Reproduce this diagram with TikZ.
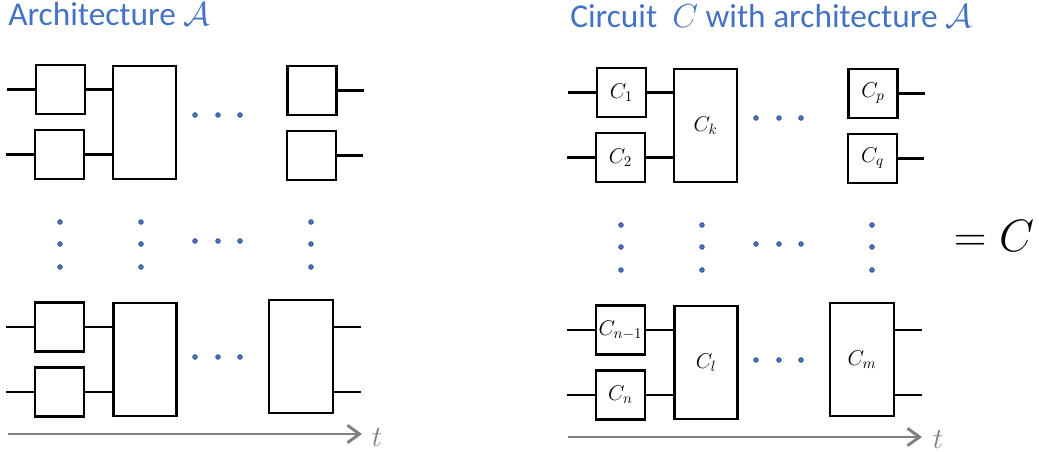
\RequirePackage{fix-cm}
\documentclass[tikz,border=0pt]{standalone}
\usepackage{fontspec}
\setmainfont{Carlito}
\usetikzlibrary{arrows.meta}
\definecolor{titleblue}{HTML}{4472C4}
\definecolor{axisgray}{HTML}{7F7F7F}
\tikzset{
  gate/.style={draw, line width=1.8pt, inner sep=0pt, minimum width=36.75pt, minimum height=36.75pt, font=\fontsize{16}{18}\selectfont},
  biggate/.style={gate, minimum width=47.25pt, minimum height=84.75pt},
  wire/.style={line width=1.6pt},
  dotfill/.style={fill=titleblue, draw=titleblue!55!black, line width=0.4pt},
  timeaxis/.style={draw=axisgray, line width=2.2pt, -{Straight Barb[length=9pt,width=13pt]}},
  paneltitle/.style={anchor=base west, text=titleblue, font=\fontsize{25}{30}\selectfont, inner sep=0pt}
}
\begin{document}
\begin{tikzpicture}[x=0.75pt,y=-0.75pt]
\useasboundingbox (0,0) rectangle (1039,452);
% architecture A
\node[paneltitle] (titleA) at (8,26) {Architecture $\mathcal{A}$};
\node[gate] (a1) at (60.5,89.5) {};
\node[gate] (a2) at (59.5,154.5) {};
\node[biggate] (ak) at (144.5,122.5) {};
\node[gate] (ap) at (312,90.5) {};
\node[gate] (aq) at (311.5,155.5) {};
\node[gate] (an1) at (59.5,327) {};
\node[gate] (an) at (59.5,392) {};
\node[biggate] (al) at (145,359.5) {};
\node[biggate, minimum width=48pt] (am) at (301,356.5) {};
\draw[wire] (a1.west) -- +(-28,0);
\draw[wire] (a2.west) -- +(-28,0);
\draw[wire] (a1.east) -- (a1.east -| ak.west);
\draw[wire] (a2.east) -- (a2.east -| ak.west);
\draw[wire] (ap.east) -- +(26,0);
\draw[wire] (aq.east) -- +(26,0);
\draw[wire] (an1.west) -- +(-28,0);
\draw[wire] (an.west) -- +(-28,0);
\draw[wire] (an1.east) -- (an1.east -| al.west);
\draw[wire] (an.east) -- (an.east -| al.west);
\draw[wire] (am.east |- an1) -- +(27,0);
\draw[wire] (am.east |- an) -- +(27,0);
\foreach \x in {195,218,240} \foreach \y in {115,241,357}
  \filldraw[dotfill] (\x,\y) circle[radius=1.8pt];
\foreach \x in {60,141,311} \foreach \y in {222,244,267}
  \filldraw[dotfill] (\x,\y) circle[radius=1.8pt];
\coordinate (ta0) at (8,434);
\coordinate (ta1) at (362,434);
\draw[timeaxis] (ta0) -- (ta1);
\node[anchor=base, text=axisgray, font=\fontsize{22}{26}\selectfont] (ta) at (377,446) {$t$};
% circuit C
\begin{scope}[shift={(561,3)}]
\node[paneltitle] (titleC) at (9,25) {Circuit\ \ $C$ with architecture $\mathcal{A}$};
\node[gate] (c1) at (60.5,89.5) {$C_{1}$};
\node[gate] (c2) at (59.5,154.5) {$C_{2}$};
\node[biggate] (ck) at (144.5,122.5) {$C_{k}$};
\node[gate] (cp) at (312,90.5) {$C_{p}$};
\node[gate] (cq) at (311.5,155.5) {$C_{q}$};
\node[gate] (cn1) at (59.5,327) {$C_{n-1}$};
\node[gate] (cn) at (59.5,392) {$C_{n}$};
\node[biggate] (cl) at (145,359.5) {$C_{l}$};
\node[biggate, minimum width=48pt] (cm) at (301,356.5) {$C_{m}$};
\draw[wire] (c1.west) -- +(-28,0);
\draw[wire] (c2.west) -- +(-28,0);
\draw[wire] (c1.east) -- (c1.east -| ck.west);
\draw[wire] (c2.east) -- (c2.east -| ck.west);
\draw[wire] (cp.east) -- +(26,0);
\draw[wire] (cq.east) -- +(26,0);
\draw[wire] (cn1.west) -- +(-28,0);
\draw[wire] (cn.west) -- +(-28,0);
\draw[wire] (cn1.east) -- (cn1.east -| cl.west);
\draw[wire] (cn.east) -- (cn.east -| cl.west);
\draw[wire] (cm.east |- cn1) -- +(27,0);
\draw[wire] (cm.east |- cn) -- +(27,0);
\foreach \x in {195,218,240} \foreach \y in {115,241,357}
  \filldraw[dotfill] (\x,\y) circle[radius=1.8pt];
\foreach \x in {60,141,311} \foreach \y in {222,244,267}
  \filldraw[dotfill] (\x,\y) circle[radius=1.8pt];
\coordinate (tc0) at (7,434);
\coordinate (tc1) at (361,434);
\draw[timeaxis] (tc0) -- (tc1);
\node[anchor=base, text=axisgray, font=\fontsize{22}{26}\selectfont] (tc) at (377,445) {$t$};
\end{scope}
\node[anchor=base, font=\fontsize{34}{40}\selectfont] (eqC) at (994,252) {$=C$};
\end{tikzpicture}
\end{document}
